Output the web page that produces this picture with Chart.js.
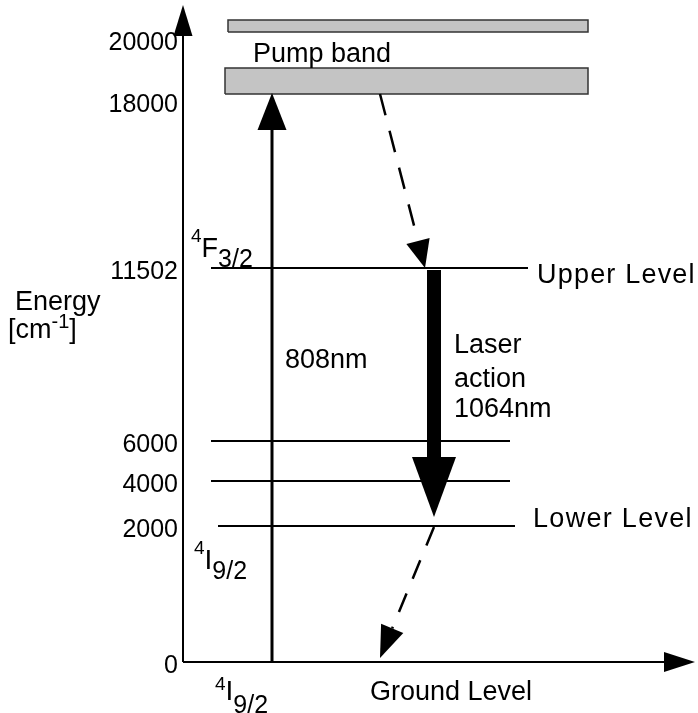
<!DOCTYPE html>
<html>
<head>
<meta charset="utf-8">
<script src="https://cdn.jsdelivr.net/npm/chart.js@4/dist/chart.umd.min.js"></script>
<style>
  html, body { margin: 0; padding: 0; background: #fff; }
</style>
</head>
<body>
<canvas id="nivelesNd" width="698" height="713"></canvas>
<script>
// =========================================================================
// DATOS - diagrama de niveles Nd:YAG (esquemático, no a escala)
// =========================================================================
// altura esquemática de cada etiqueta de energía sobre el eje
const energyLabels = ['0', '2000', '4000', '6000', '11502', '18000', '20000'];
const tickHeights  = [0, 136, 181, 221, 394, 561, 623];

// niveles dibujados como líneas (2000, 4000, 6000, 11502)
const levelHeights = [136, 181, 221, 394];
const levelStart   = [35, 28, 28, 28];
const levelEnd     = [332, 327, 327, 345];

// banda de bombeo (dos franjas)
const bandBottom = [568, 630];
const bandTop    = [594, 642];
const bandStart  = [42, 45];
const bandEnd    = [405, 405];

// flechas: bombeo 808nm, láser 1064nm, relajaciones no radiativas
const arrowFromX = [89, 251, 197, 251];
const arrowFromY = [0, 392, 568, 135];
const arrowToX   = [89, 251, 242, 197];
const arrowToY   = [569, 145, 394, 4];

const FONT = '"Liberation Sans", Arial, sans-serif';

// =========================================================================
// DATASETS
// =========================================================================
const datasets = [];

levelHeights.forEach((h, i) => {
    datasets.push({
        data: [{ x: levelStart[i], y: h }, { x: levelEnd[i], y: h }],
        borderColor: '#000',
        borderWidth: 2,
        pointRadius: 0,
        showLine: true
    });
});

bandBottom.forEach((b, i) => {
    datasets.push({
        data: [
            { x: bandStart[i], y: b }, { x: bandEnd[i], y: b },
            { x: bandEnd[i], y: bandTop[i] }, { x: bandStart[i], y: bandTop[i] },
            { x: bandStart[i], y: b }
        ],
        borderColor: '#333',
        borderWidth: 1.5,
        backgroundColor: '#c4c4c4',
        fill: 'shape',
        pointRadius: 0,
        showLine: true,
        tension: 0
    });
});

// estilos de flecha (grosor, largo y ancho de la punta, guiones)
const arrowStyles = [
    { w: 3,  head: 37, width: 29, dash: [] },
    { w: 14, head: 60, width: 44, dash: [] },
    { w: 2.5, head: 28, width: 24, dash: [22, 16] },
    { w: 2.5, head: 32, width: 24, dash: [20, 16] }
];

// =========================================================================
// PLUGIN: ejes con flecha, flechas y textos
// =========================================================================
function dibujarFlecha(ctx, x1, y1, x2, y2, st) {
    const ang = Math.atan2(y2 - y1, x2 - x1);
    const bx = x2 - Math.cos(ang) * st.head;
    const by = y2 - Math.sin(ang) * st.head;
    ctx.save();
    ctx.strokeStyle = '#000';
    ctx.fillStyle = '#000';
    ctx.lineWidth = st.w;
    ctx.setLineDash(st.dash);
    ctx.beginPath();
    ctx.moveTo(x1, y1);
    ctx.lineTo(bx, by);
    ctx.stroke();
    ctx.setLineDash([]);
    const nx = -Math.sin(ang) * st.width / 2;
    const ny = Math.cos(ang) * st.width / 2;
    ctx.beginPath();
    ctx.moveTo(x2, y2);
    ctx.lineTo(bx + nx, by + ny);
    ctx.lineTo(bx - nx, by - ny);
    ctx.closePath();
    ctx.fill();
    ctx.restore();
}

// textos: x, y (línea base) y tramos [texto, tamaño, desplazamiento vertical]
const textos = [
    { x: 70,   y: 600, runs: [['Pump band', 27, 0]] },
    { x: 354,  y: 379, runs: [['Upper Level', 27, 0]], sp: 1.2 },
    { x: 350,  y: 135, runs: [['Lower Level', 27, 0]], sp: 1.3 },
    { x: 271,  y: 309, runs: [['Laser', 27, 0]] },
    { x: 271,  y: 275, runs: [['action', 27, 0]] },
    { x: 271,  y: 245, runs: [['1064nm', 27, 0]] },
    { x: 102,  y: 294, runs: [['808nm', 27, 0]] },
    { x: -168, y: 352, runs: [['Energy', 27, 0]] },
    { x: -175, y: 324, runs: [['[cm', 27, 0], ['-1', 20, 10], [']', 27, 0]] },
    { x: 187,  y: -38, runs: [['Ground Level', 27, 0]] },
    { x: 8,    y: 420, runs: [['4', 19, 0], ['F', 27, -15], ['3/2', 25, -25]] },
    { x: 11,   y: 108, runs: [['4', 19, 0], ['I', 28, -15], ['9/2', 25, -25]] },
    { x: 32,   y: -28, runs: [['4', 19, 0], ['I', 28, -10], ['9/2', 25, -23]] }
];

const diagramaPlugin = {
    id: 'diagrama',
    afterDatasetsDraw(chart) {
        const { ctx, scales: { x, y } } = chart;
        const px = v => x.getPixelForValue(v);
        const py = v => y.getPixelForValue(v);

        // ejes
        dibujarFlecha(ctx, px(0), py(0), px(0), py(657), { w: 2, head: 31, width: 19, dash: [] });
        dibujarFlecha(ctx, px(0), py(0), px(512), py(0), { w: 2, head: 31, width: 20, dash: [] });

        arrowFromX.forEach((fx, i) => {
            dibujarFlecha(ctx, px(fx), py(arrowFromY[i]), px(arrowToX[i]), py(arrowToY[i]), arrowStyles[i]);
        });

        ctx.save();
        ctx.fillStyle = '#000';
        ctx.textBaseline = 'alphabetic';
        ctx.textAlign = 'left';
        textos.forEach(item => {
            let cx = px(item.x);
            const base = py(item.y);
            ctx.letterSpacing = (item.sp || 0) + 'px';
            item.runs.forEach(([t, size, dy]) => {
                ctx.font = `${size}px ${FONT}`;
                ctx.fillText(t, cx, base - dy);
                cx += ctx.measureText(t).width;
            });
        });
        ctx.letterSpacing = '0px';
        ctx.restore();
    }
};

// =========================================================================
// GRÁFICO
// =========================================================================
new Chart(document.getElementById('nivelesNd').getContext('2d'), {
    type: 'scatter',
    data: { datasets },
    options: {
        responsive: false,
        animation: false,
        layout: { padding: { top: 5, right: 3, bottom: 51, left: 0 } },
        plugins: { legend: { display: false }, tooltip: { enabled: false } },
        scales: {
            x: { type: 'linear', min: 0, max: 512, display: false },
            y: {
                type: 'linear',
                min: 0,
                max: 657,
                grid: { display: false, drawTicks: false },
                border: { display: false },
                afterBuildTicks: (axis) => {
                    axis.ticks = tickHeights.map(v => ({ value: v }));
                },
                afterFit: (axis) => {
                    axis.width = 183;
                    axis.paddingTop = 0;
                    axis.paddingBottom = 0;
                },
                ticks: {
                    autoSkip: false,
                    padding: 5,
                    labelOffset: 4,
                    color: '#000',
                    font: { family: FONT, size: 25 },
                    callback: (v) => energyLabels[tickHeights.indexOf(v)]
                }
            }
        }
    },
    plugins: [diagramaPlugin]
});
</script>
</body>
</html>
